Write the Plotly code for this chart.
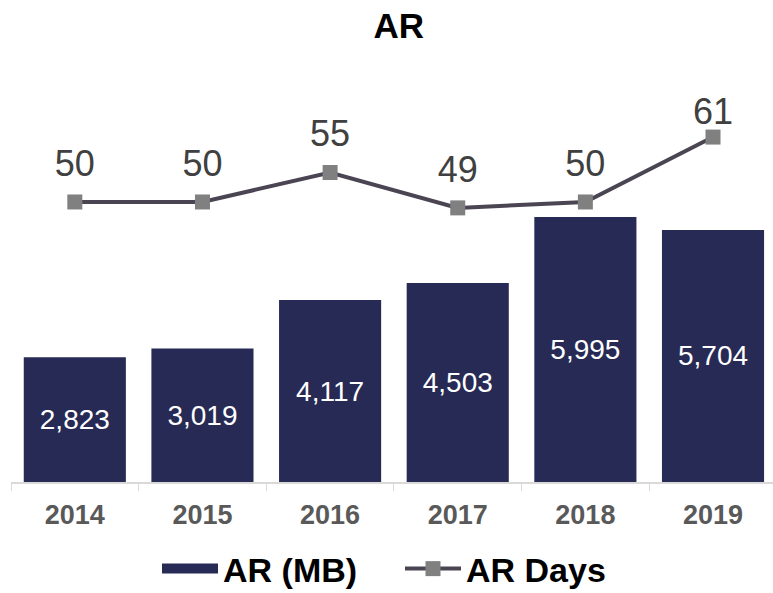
import plotly.graph_objects as go

years = ["2014", "2015", "2016", "2017", "2018", "2019"]
ar_mb = [2823, 3019, 4117, 4503, 5995, 5704]
ar_days = [50, 50, 55, 49, 50, 61]

FONT = "Arial, 'Liberation Sans', sans-serif"
NAVY = "#272a54"

fig = go.Figure()
fig.add_trace(go.Bar(
    x=years, y=ar_mb, name="<b>AR (MB)</b>",
    marker=dict(color=NAVY, line=dict(width=0)),
    width=0.8,
    texttemplate="%{y:,}", textposition="inside", insidetextanchor="middle",
    textfont=dict(color="white", size=28, family=FONT),
    cliponaxis=False, showlegend=False, hoverinfo="x+y",
))
# legend entry for the bars (wide swatch like the reference)
fig.add_trace(go.Scatter(
    x=[None], y=[None], name="<b>AR (MB)</b>", mode="lines",
    line=dict(color=NAVY, width=18), hoverinfo="skip",
))
fig.add_trace(go.Scatter(
    x=years, y=ar_days, name="<b>AR Days</b>", yaxis="y2",
    mode="lines+markers",
    line=dict(color="#4b4453", width=4),
    marker=dict(symbol="square", size=15, color="#808080"),
    cliponaxis=False,
))
# data labels for AR Days (invisible markers only set the label offset)
fig.add_trace(go.Scatter(
    x=years, y=ar_days, yaxis="y2", mode="markers+text",
    text=[str(d) for d in ar_days], textposition="top center",
    textfont=dict(size=36, color="#404040", family=FONT),
    marker=dict(size=[26, 26, 26, 26, 26, 5], color="rgba(0,0,0,0)",
                opacity=0, line=dict(width=0)),
    showlegend=False, hoverinfo="skip", cliponaxis=False,
))

fig.update_layout(
    width=773, height=593,
    margin=dict(l=11, r=0, t=90, b=111, autoexpand=False),
    paper_bgcolor="white", plot_bgcolor="white",
    font=dict(family=FONT),
    title=dict(text="<b>AR</b>", x=0.516, xref="container", y=0.956, yref="container",
               xanchor="center", yanchor="middle",
               font=dict(size=35, color="black", family=FONT)),
    xaxis=dict(
        type="category", automargin=False,
        range=[-0.5, 5.47], tickson="boundaries", ticks="outside", ticklen=7,
        tickcolor="#d9d9d9", showline=True, linecolor="#d9d9d9", linewidth=1.5,
        showgrid=False, tickfont=dict(size=27, color="#595959", family=FONT),
        tickprefix="<b>", ticksuffix="</b>", ticklabelstandoff=8,
    ),
    yaxis=dict(range=[0, 8869], visible=False, showgrid=False, automargin=False),
    yaxis2=dict(range=[2.54, 68.98], overlaying="y", visible=False, showgrid=False,
                automargin=False),
    showlegend=True,
    legend=dict(orientation="h", x=0.5105, xanchor="center", y=-0.222, yanchor="middle",
                font=dict(size=34, color="black", family=FONT), itemwidth=56,
                traceorder="normal", entrywidth=172, borderwidth=0),
    bargap=0.2,
)

fig.write_html("out.html", config={"displayModeBar": False},
               post_script="document.body.style.margin='0';document.body.style.padding='0';")
